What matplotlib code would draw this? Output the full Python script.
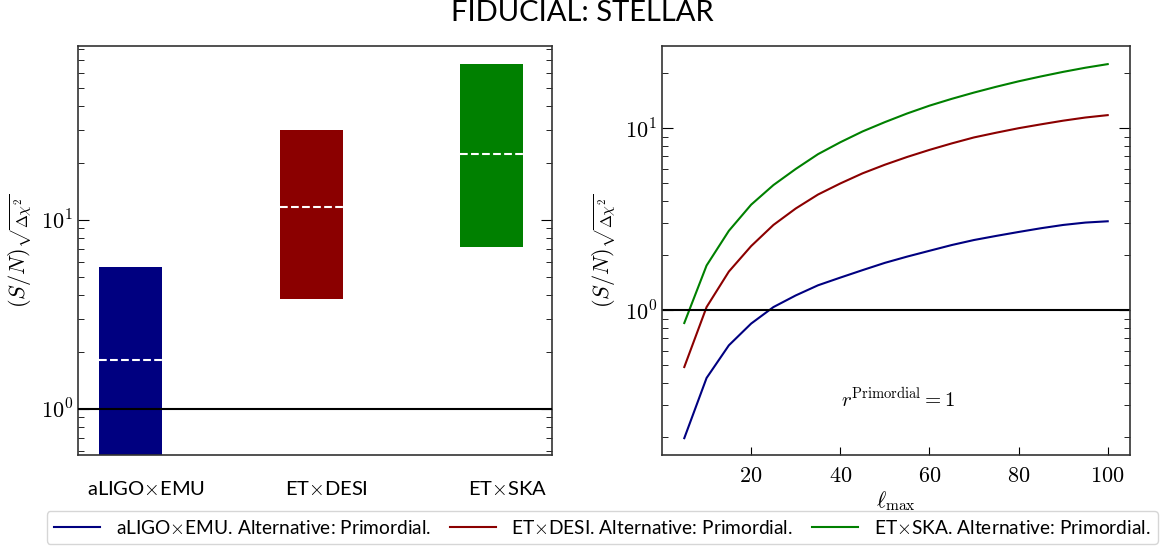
import numpy as np
import matplotlib
matplotlib.use('Agg')
import matplotlib.pyplot as plt
from matplotlib.ticker import LogLocator, NullFormatter, FixedLocator, FuncFormatter

plt.rcParams['mathtext.fontset'] = 'cm'
plt.rcParams['font.family'] = ['Lato', 'DejaVu Sans']

# data
surveys = ['aLIGO$\\times$EMU', 'ET$\\times$DESI', 'ET$\\times$SKA']
colors = ['#000080', '#8b0000', '#008000']
bar_low = [0.3, 3.82, 7.2]
bar_high = [5.64, 29.9, 66.9]
bar_mid = [1.82, 11.7, 22.4]

ell_max = [5, 10, 15, 20, 25, 30, 35, 40, 45, 50, 55, 60, 65, 70, 75, 80, 85, 90, 95, 100]
snr_aligo_emu = [0.198, 0.424, 0.641, 0.844, 1.04, 1.205, 1.37, 1.51, 1.66, 1.82,
                 1.97, 2.12, 2.28, 2.43, 2.56, 2.69, 2.82, 2.94, 3.03, 3.08]
snr_et_desi = [0.487, 1.04, 1.63, 2.25, 2.94, 3.62, 4.32, 4.97, 5.65, 6.3,
               6.95, 7.6, 8.25, 8.9, 9.45, 10.0, 10.5, 11.0, 11.45, 11.8]
snr_et_ska = [0.85, 1.76, 2.73, 3.80, 4.87, 5.97, 7.2, 8.37, 9.6, 10.8,
              12.05, 13.3, 14.5, 15.7, 16.9, 18.1, 19.25, 20.4, 21.5, 22.5]

ylabel = r'$(S/N)_{\sqrt{\Delta\chi^2}}$'


def log_fmt(v, pos):
    return r'$10^{%d}$' % int(round(np.log10(v)))


fig = plt.figure(figsize=(11.65, 5.5), dpi=100)
ax1 = fig.add_axes([78 / 1165, 1 - 455 / 550, 474 / 1165, 409 / 550])
ax2 = fig.add_axes([662 / 1165, 1 - 455 / 550, 468 / 1165, 409 / 550])

# left panel: ranges as bars
bar_w = 0.35
for i in range(len(surveys)):
    ax1.bar(i, bar_high[i] - bar_low[i], bottom=bar_low[i], width=bar_w,
            align='edge', color=colors[i], zorder=1)
    ax1.hlines(bar_mid[i], i, i + bar_w, colors='white', linestyles='--',
               linewidth=1.5, zorder=2)
ax1.axhline(1, color='k', lw=1.5, zorder=3)
ax1.set_yscale('log')
ax1.set_ylim(0.57, 83)
ax1.set_xlim(-0.116, 2.508)
ax1.set_xticks([i + 0.26 for i in range(len(surveys))])
ax1.set_xticklabels(surveys, fontsize=14.5)
ax1.tick_params(axis='x', length=0, pad=18)
ax1.set_ylabel(ylabel, fontsize=16)

# right panel: S/N vs ell_max
ax2.plot(ell_max, snr_aligo_emu, color=colors[0], lw=1.5,
         label='aLIGO$\\times$EMU. Alternative: Primordial.')
ax2.plot(ell_max, snr_et_desi, color=colors[1], lw=1.5,
         label='ET$\\times$DESI. Alternative: Primordial.')
ax2.plot(ell_max, snr_et_ska, color=colors[2], lw=1.5,
         label='ET$\\times$SKA. Alternative: Primordial.')
ax2.axhline(1, color='k', lw=1.5)
ax2.set_yscale('log')
ax2.set_ylim(0.16, 28.3)
ax2.set_xlim(0, 105)
ax2.xaxis.set_major_locator(FixedLocator([20, 40, 60, 80, 100]))
ax2.xaxis.set_major_formatter(FuncFormatter(lambda v, pos: r'$%d$' % v))
ax2.set_xlabel(r'$\ell_{\rm max}$', fontsize=16, labelpad=2)
ax2.set_ylabel(ylabel, fontsize=16)
ax2.text(53, 0.33, r'$r^{\rm Primordial} = 1$', fontsize=15, ha='center', va='center')
ax2.tick_params(axis='x', direction='in', length=6, labelsize=16, pad=8)

for ax in (ax1, ax2):
    ax.yaxis.set_major_locator(LogLocator(base=10, numticks=10))
    ax.yaxis.set_major_formatter(FuncFormatter(log_fmt))
    ax.yaxis.set_minor_locator(LogLocator(base=10, subs=np.arange(2, 10), numticks=10))
    ax.yaxis.set_minor_formatter(NullFormatter())
    ax.tick_params(axis='y', which='both', direction='in', left=True, right=True,
                   labelsize=16)
    ax.tick_params(axis='y', which='major', length=8)
    ax.tick_params(axis='y', which='minor', length=4)
    for s in ax.spines.values():
        s.set_color('#333333')
        s.set_linewidth(1.2)

fig.suptitle('FIDUCIAL: STELLAR', fontsize=21, y=1.0)
handles, labels = ax2.get_legend_handles_labels()
fig.legend(handles, labels, loc='lower center', ncol=3, fontsize=13.8,
           bbox_to_anchor=(0.517, 0.0), frameon=True, handlelength=2.4,
           columnspacing=1.0, borderaxespad=0.3)

fig.savefig('out.png', dpi=100)
